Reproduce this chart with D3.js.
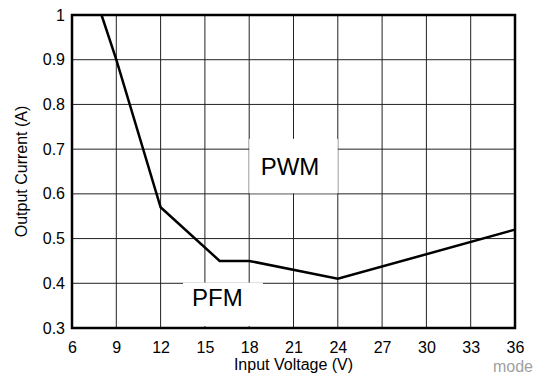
<!DOCTYPE html>
<html>
<head>
<meta charset="utf-8">
<script src="https://cdn.jsdelivr.net/npm/d3@7"></script>
<style>
  html, body { margin: 0; padding: 0; background: #fff; }
  svg { display: block; font-family: "Liberation Sans", Arial, Helvetica, sans-serif; }
</style>
</head>
<body>
<svg id="chart" width="539" height="379"></svg>
<script>
// ---- data ----
const inputVoltage = [8, 9, 12, 16, 18, 24, 36];
const outputCurrent = [1.0, 0.9, 0.57, 0.45, 0.45, 0.41, 0.52];
const xTicks = [6, 9, 12, 15, 18, 21, 24, 27, 30, 33, 36];
const yTicks = [0.3, 0.4, 0.5, 0.6, 0.7, 0.8, 0.9, 1];
const regionLabels = ["PWM", "PFM"];
const xTitle = "Input Voltage (V)";
const yTitle = "Output Current (A)";
const footNote = "mode";

// ---- layout ----
const W = 539, H = 379;
const m = { left: 72, right: 24, top: 15, bottom: 51 };
const svg = d3.select("#chart");

const x = d3.scaleLinear().domain([6, 36]).range([m.left, W - m.right]);
const y = d3.scaleLinear().domain([0.3, 1]).range([H - m.bottom, m.top]);

// gridlines
const g = svg.append("g");
g.selectAll("line.vg").data(xTicks.slice(1, -1)).join("line")
  .attr("x1", d => x(d)).attr("x2", d => x(d))
  .attr("y1", y(1)).attr("y2", y(0.3))
  .attr("stroke", "#222").attr("stroke-width", 1);
g.selectAll("line.hg").data(yTicks.slice(1, -1)).join("line")
  .attr("y1", d => y(d)).attr("y2", d => y(d))
  .attr("x1", x(6)).attr("x2", x(36))
  .attr("stroke", "#222").attr("stroke-width", 1);

// white label boxes (annotation backgrounds)
svg.append("rect")
  .attr("x", x(18)).attr("y", y(0.723))
  .attr("width", x(24) - x(18)).attr("height", y(0.6) - y(0.723) - 0.5)
  .attr("fill", "#fff");
svg.append("rect")
  .attr("x", x(13.52)).attr("y", y(0.4015))
  .attr("width", x(18.93) - x(13.52)).attr("height", y(0.3045) - y(0.4015))
  .attr("fill", "#fff");

// data line
svg.append("path")
  .datum(inputVoltage.map((v, i) => [v, outputCurrent[i]]))
  .attr("d", d3.line().x(d => x(d[0])).y(d => y(d[1])))
  .attr("fill", "none").attr("stroke", "#000").attr("stroke-width", 2.5)
  .attr("stroke-linejoin", "miter");

// frame
svg.append("rect")
  .attr("x", x(6)).attr("y", y(1))
  .attr("width", x(36) - x(6)).attr("height", y(0.3) - y(1))
  .attr("fill", "none").attr("stroke", "#000").attr("stroke-width", 2.5);

// axes (labels only)
const xAxis = d3.axisBottom(x).tickValues(xTicks).tickSize(0).tickPadding(0).tickFormat(d3.format("d"));
const xg = svg.append("g").attr("transform", `translate(0,${y(0.3)})`).call(xAxis);
xg.select(".domain").remove();
xg.selectAll("text").attr("dy", null).attr("y", 24.5)
  .attr("font-size", 16).attr("font-family", "Liberation Sans, Arial, sans-serif").attr("fill", "#000");

const yAxis = d3.axisLeft(y).tickValues(yTicks).tickSize(0).tickPadding(0)
  .tickFormat(d => d === 1 ? "1" : d3.format(".1f")(d));
const yg = svg.append("g").attr("transform", `translate(${m.left - 7},0)`).call(yAxis);
yg.select(".domain").remove();
yg.selectAll("text").attr("font-size", 16).attr("font-family", "Liberation Sans, Arial, sans-serif").attr("fill", "#000");

// region labels
svg.append("text").attr("x", x(20.76)).attr("y", y(0.642))
  .attr("text-anchor", "middle").attr("font-size", 24).text(regionLabels[0]);
svg.append("text").attr("x", x(15.85)).attr("y", y(0.349))
  .attr("text-anchor", "middle").attr("font-size", 24).text(regionLabels[1]);

// titles
svg.append("text").attr("x", (x(6) + x(36)) / 2).attr("y", 370)
  .attr("text-anchor", "middle").attr("font-size", 16).text(xTitle);
svg.append("text")
  .attr("transform", `translate(26.5,${(y(1) + y(0.3)) / 2}) rotate(-90)`)
  .attr("text-anchor", "middle").attr("font-size", 16).text(yTitle);
svg.append("text").attr("x", 533).attr("y", 372)
  .attr("text-anchor", "end").attr("font-size", 16).attr("fill", "#a0a0a0").text(footNote);
</script>
</body>
</html>
